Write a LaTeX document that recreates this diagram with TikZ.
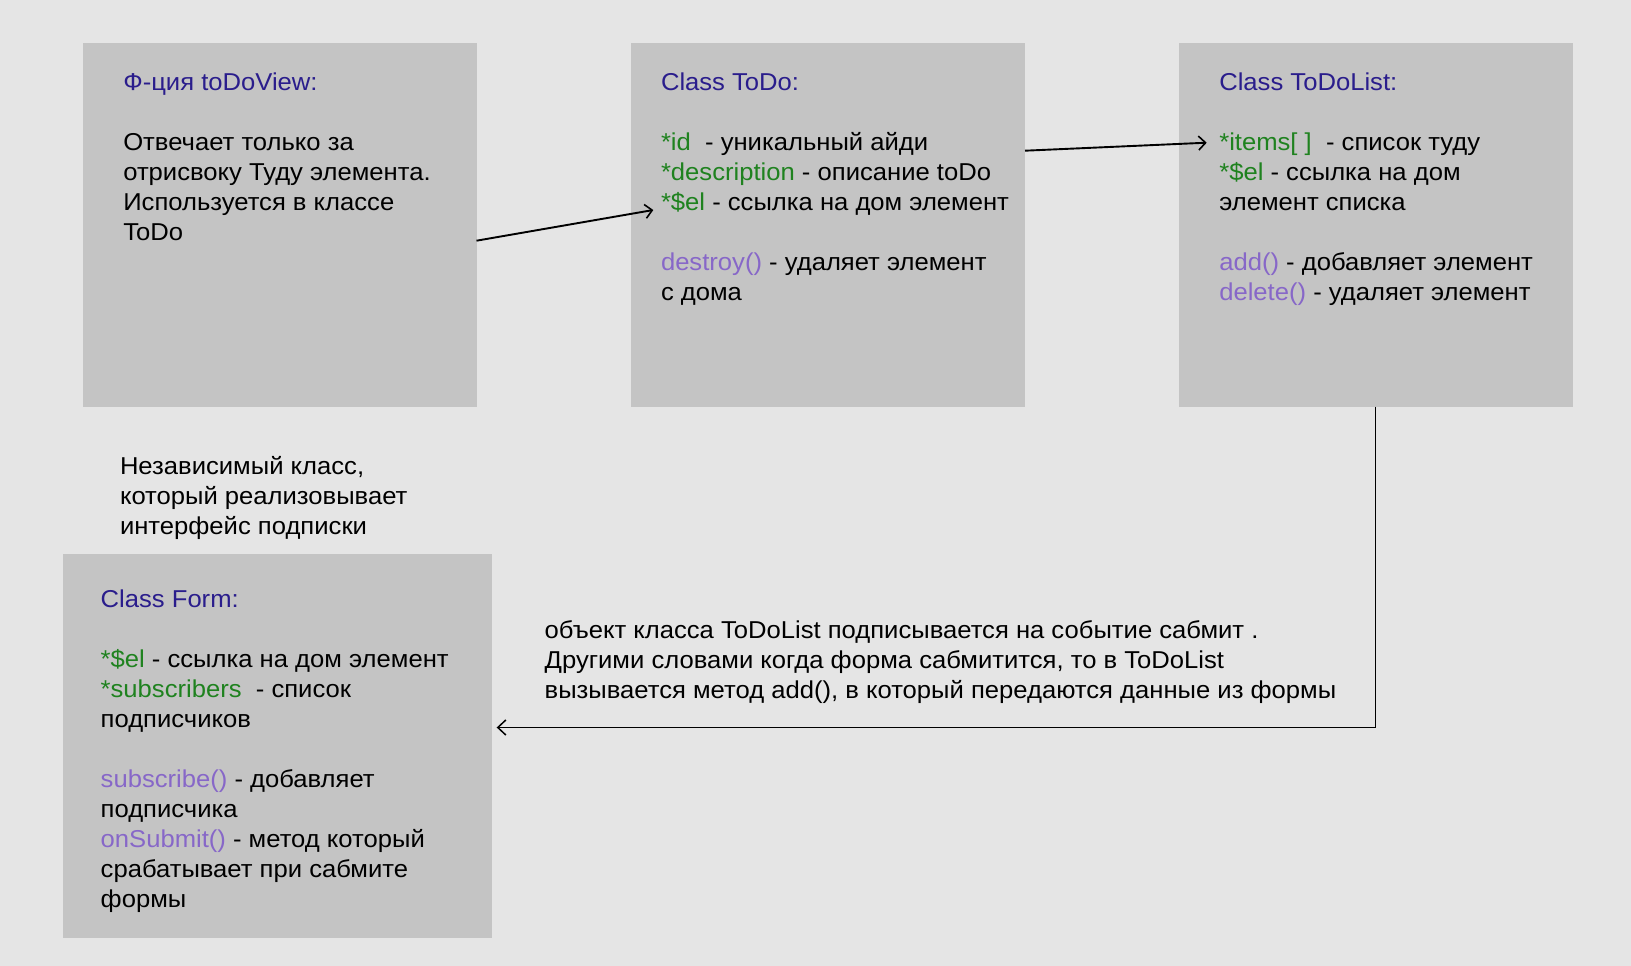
\documentclass[tikz,border=0pt]{standalone}
\usepackage{fontspec}
\setmainfont[FakeStretch=1.05]{Liberation Sans}
\usetikzlibrary{arrows.meta}
\definecolor{bgc}{HTML}{E5E5E5}
\definecolor{boxc}{HTML}{C4C4C4}
\definecolor{ttl}{HTML}{2A1D8C}
\definecolor{grn}{HTML}{1F821F}
\definecolor{prp}{HTML}{8767C8}
\newcommand{\txtblock}[1]{\fontsize{24.4}{30}\selectfont\vtop{\baselineskip=30pt\lineskiplimit=-100pt\lineskip=0pt #1}}
\newcommand{\tline}[1]{\hbox{#1}}
\begin{document}
\begin{tikzpicture}[x=1pt,y=-1pt,
  boxst/.style={fill=boxc,draw=none,inner sep=0pt,outer sep=0pt,anchor=north west},
  txt/.style={anchor=base west,inner sep=0pt,outer sep=0pt,text=black},
  conn/.style={line width=1.9pt,-{Straight Barb[length=7pt,width=14pt,line width=1.6pt]}},
  conn2/.style={line width=1.9pt,-{Straight Barb[length=8pt,width=15pt,line width=1.5pt]}}]
\fill[bgc] (0,0) rectangle (1631,966);
\useasboundingbox (0,0) rectangle (1631,966);
\node[boxst,minimum width=394pt,minimum height=363pt] (b1) at (82.5,43.5) {};
\node[boxst,minimum width=394.5pt,minimum height=363pt] (b2) at (630.5,43.5) {};
\node[boxst,minimum width=394pt,minimum height=363pt] (b3) at (1178.5,43.5) {};
\node[boxst,minimum width=429pt,minimum height=384pt] (b4) at (62.5,553.5) {};

\node[txt] (t1) at (123.3,91) {\txtblock{%
\tline{\color{ttl}Ф-ция toDoView:}
\tline{}
\tline{Отвечает только за}
\tline{отрисвоку Туду элемента.}
\tline{Используется в классе}
\tline{ToDo}}};

\node[txt] (t2) at (661,91) {\txtblock{%
\tline{\color{ttl}Class ToDo:}
\tline{}
\tline{{\color{grn}*id}\ \ - уникальный айди}
\tline{{\color{grn}*description} - описание toDo}
\tline{{\color{grn}*\$el} - ссылка на дом элемент}
\tline{}
\tline{{\color{prp}destroy()} - удаляет элемент}
\tline{с дома}}};

\node[txt] (t3) at (1219.3,91) {\txtblock{%
\tline{\color{ttl}Class ToDoList:}
\tline{}
\tline{{\color{grn}*items[ ]}\ \ - список туду}
\tline{{\color{grn}*\$el} - ссылка на дом}
\tline{элемент списка}
\tline{}
\tline{{\color{prp}add()} - добавляет элемент}
\tline{{\color{prp}delete()} - удаляет элемент}}};

\node[txt] (t5) at (120,474.3) {\txtblock{%
\tline{Независимый класс,}
\tline{который реализовывает}
\tline{интерфейс подписки}}};

\node[txt] (t4) at (100.7,607.7) {\txtblock{%
\tline{\color{ttl}Class Form:}
\tline{}
\tline{{\color{grn}*\$el} - ссылка на дом элемент}
\tline{{\color{grn}*subscribers}\ \ - список}
\tline{подписчиков}
\tline{}
\tline{{\color{prp}subscribe()} - добавляет}
\tline{подписчика}
\tline{{\color{prp}onSubmit()} - метод который}
\tline{срабатывает при сабмите}
\tline{формы}}};

\node[txt] (t6) at (544.7,638.3) {\txtblock{%
\tline{объект класса ToDoList подписывается на событие сабмит .}
\tline{Другими словами когда форма сабмитится, то в ToDoList}
\tline{вызывается метод add(), в который передаются данные из формы}}};

\coordinate (a1s) at (476.5,240.7);
\coordinate (a1e) at (653.3,210);
\coordinate (a2s) at (1025,150.7);
\coordinate (a2e) at (1206.7,142.7);
\coordinate (a3e) at (496.7,727.5);
\draw[conn] (a1s) -- (a1e);
\draw[conn] (a2s) -- (a2e);
\draw[conn2] (b3.south) |- (a3e);
\end{tikzpicture}
\end{document}
